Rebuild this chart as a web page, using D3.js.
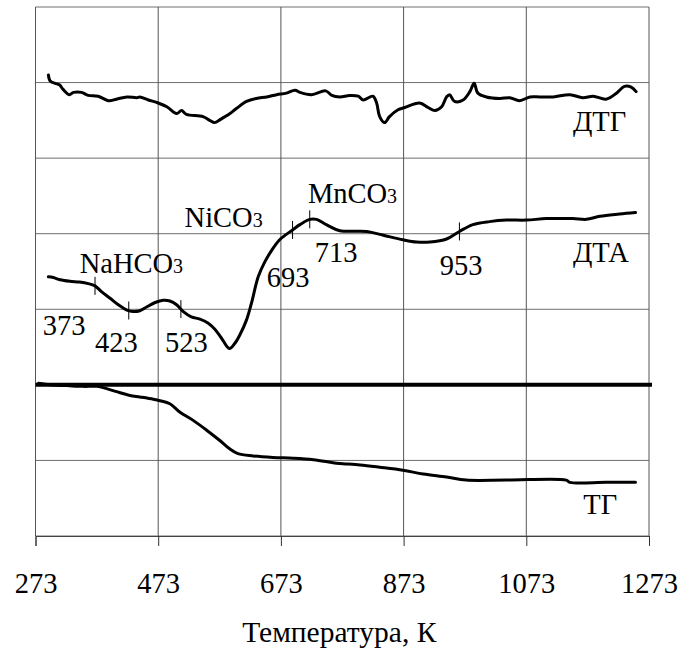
<!DOCTYPE html>
<html>
<head>
<meta charset="utf-8">
<script src="https://cdn.jsdelivr.net/npm/d3@7/dist/d3.min.js"></script>
<style>
  html, body { margin: 0; padding: 0; background: #fff; }
  svg { display: block; }
  text { font-family: "Liberation Serif", "Times New Roman", serif; fill: #000; }
</style>
</head>
<body>
<svg id="chart" width="679" height="652"></svg>
<script>
// ---- data ----
const xTicks = [273, 473, 673, 873, 1073, 1273];
const yGrid = [0, 1, 2, 3, 4, 5, 6, 7];
const xTitle = "Температура, К";

// ДТГ curve [temperature K, relative value]
const dtg = [[294,6.10],[297,6.02],[305,5.99],[312,5.97],[318,5.91],[328,5.84],[335,5.87],[348,5.87],[359,5.83],[375,5.82],[392,5.76],[405,5.78],[422,5.81],[438,5.80],[443,5.81],[457,5.77],[473,5.73],[487,5.68],[503,5.59],[511,5.63],[519,5.58],[546,5.55],[557,5.50],[565,5.47],[574,5.51],[590,5.59],[601,5.66],[617,5.75],[633,5.79],[650,5.81],[666,5.84],[682,5.86],[696,5.90],[704,5.87],[723,5.84],[746,5.89],[756,5.83],[769,5.81],[785,5.83],[799,5.82],[807,5.77],[823,5.82],[829,5.73],[834,5.55],[842,5.47],[850,5.55],[864,5.64],[875,5.67],[899,5.73],[913,5.67],[924,5.63],[935,5.68],[943,5.81],[948,5.84],[956,5.75],[970,5.77],[981,5.88],[988,5.99],[994,5.86],[1008,5.81],[1030,5.79],[1046,5.80],[1062,5.76],[1079,5.81],[1095,5.81],[1117,5.81],[1144,5.84],[1165,5.80],[1182,5.82],[1203,5.78],[1220,5.86],[1233,5.95],[1244,5.94],[1252,5.88]];

// ДТА curve
const dta = [[294,3.43],[302,3.42],[313,3.39],[329,3.37],[345,3.36],[359,3.34],[370,3.31],[381,3.23],[394,3.15],[408,3.06],[422,2.99],[432,2.97],[443,2.98],[454,3.03],[468,3.09],[481,3.12],[492,3.11],[503,3.06],[514,2.97],[527,2.90],[541,2.87],[554,2.82],[565,2.74],[576,2.62],[589,2.48],[598,2.55],[606,2.66],[617,2.86],[625,3.08],[636,3.43],[647,3.63],[658,3.78],[671,3.92],[692,4.05],[704,4.12],[720,4.19],[731,4.19],[747,4.12],[769,4.04],[813,4.03],[840,3.98],[872,3.92],[894,3.89],[916,3.89],[943,3.93],[964,4.03],[986,4.12],[1013,4.16],[1041,4.18],[1073,4.18],[1106,4.20],[1149,4.20],[1171,4.19],[1193,4.23],[1225,4.26],[1251,4.28]];

// ТГ curve
const tg = [[278,2.02],[297,2.00],[324,1.99],[351,1.98],[373,1.98],[389,1.95],[405,1.91],[427,1.86],[443,1.84],[465,1.81],[476,1.79],[492,1.75],[508,1.64],[530,1.53],[552,1.40],[574,1.26],[590,1.15],[603,1.09],[628,1.06],[660,1.04],[693,1.03],[726,1.01],[758,0.97],[769,0.96],[802,0.94],[834,0.91],[872,0.87],[905,0.82],[943,0.78],[975,0.74],[1041,0.74],[1138,0.74],[1144,0.71],[1203,0.71],[1251,0.71]];

// thick reference line level
const baseLevel = 2;

// peak markers on ДТА (temperatures where tick marks sit)
const markerT = [370, 425, 510, 692, 720, 964];

// annotations: text, anchor temperature, anchor level
const labelText = ["NaHCO", "373", "423", "523", "NiCO", "693", "MnCO", "713", "953", "ДТГ", "ДТА", "ТГ"];
const labelSub  = ["3", "", "", "", "3", "", "3", "", "", "", "", ""];
const labelT    = [345, 285, 370, 484, 516, 650, 717, 728, 932, 1149, 1149, 1166];
const labelV    = [3.48, 2.66, 2.43, 2.43, 4.09, 3.29, 4.41, 3.63, 3.45, 5.36, 3.63, 0.29];

// ---- layout ----
const W = 679, H = 652;
const m = { left: 35.5, right: 30, top: 7, bottom: 116 };
const svg = d3.select("#chart");
svg.append("rect").attr("width", W).attr("height", H).attr("fill", "#fff");

const x = d3.scaleLinear().domain([273, 1273]).range([m.left, W - m.right]);
const y = d3.scaleLinear().domain([0, 7]).range([H - m.bottom, m.top]);

const g = svg.append("g");

// gridlines
g.selectAll(".hg").data(yGrid).join("line")
  .attr("x1", x(273)).attr("x2", x(1273))
  .attr("y1", d => y(d)).attr("y2", d => y(d))
  .attr("stroke", "#6e6e6e").attr("stroke-width", 1);
g.selectAll(".vg").data(xTicks).join("line")
  .attr("x1", d => x(d)).attr("x2", d => x(d))
  .attr("y1", y(0)).attr("y2", y(7))
  .attr("stroke", "#555").attr("stroke-width", 1);

// bottom axis
const axis = d3.axisBottom(x).tickValues(xTicks).tickSize(10).tickPadding(27).tickFormat(d3.format("d"));
const ax = svg.append("g").attr("transform", `translate(0,${y(0)})`).call(axis);
ax.attr("font-family", null);
ax.select(".domain").attr("stroke", "#444");
ax.selectAll(".tick line").attr("stroke", "#333");
ax.selectAll(".tick text").attr("font-size", 28.5).attr("fill", "#000");

// axis title
svg.append("text").attr("x", x(773) - 3).attr("y", 642).attr("text-anchor", "middle")
  .attr("font-size", 29.5).text(xTitle);

// thick reference line
g.append("line").attr("x1", x(273)).attr("x2", x(1273) + 3)
  .attr("y1", y(baseLevel)).attr("y2", y(baseLevel))
  .attr("stroke", "#000").attr("stroke-width", 4);

const line = d3.line().x(d => x(d[0])).y(d => y(d[1])).curve(d3.curveCatmullRom.alpha(0.5));
[dtg, dta, tg].forEach(s => {
  g.append("path").datum(s).attr("d", line)
    .attr("fill", "none").attr("stroke", "#000").attr("stroke-width", 3)
    .attr("stroke-linejoin", "round").attr("stroke-linecap", "round");
});

// markers on ДТА
const interp = (t) => {
  for (let i = 1; i < dta.length; i++) {
    if (dta[i][0] >= t) {
      const a = dta[i - 1], b = dta[i];
      return a[1] + (b[1] - a[1]) * (t - a[0]) / (b[0] - a[0]);
    }
  }
  return dta[dta.length - 1][1];
};
g.selectAll(".mk").data(markerT).join("line")
  .attr("x1", d => x(d)).attr("x2", d => x(d))
  .attr("y1", d => y(interp(d)) - 9).attr("y2", d => y(interp(d)) + 9)
  .attr("stroke", "#000").attr("stroke-width", 1);

// annotations
labelText.forEach((t, i) => {
  const tx = svg.append("text").attr("x", x(labelT[i])).attr("y", y(labelV[i]))
    .attr("font-size", 28.5);
  tx.append("tspan").text(t);
  if (labelSub[i]) tx.append("tspan").attr("font-size", 20).text(labelSub[i]);
});
</script>
</body>
</html>
